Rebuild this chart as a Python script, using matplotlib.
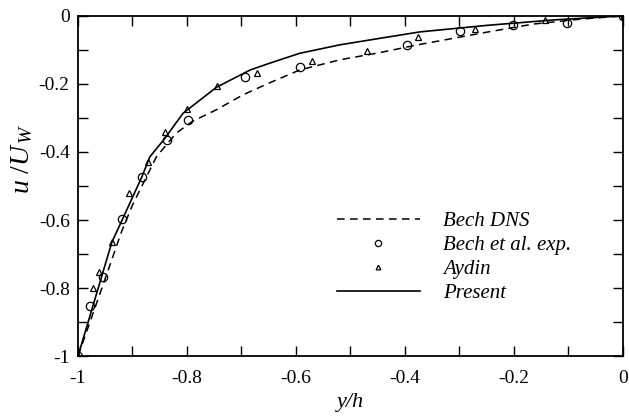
import matplotlib
matplotlib.use("Agg")
import matplotlib.pyplot as plt
from matplotlib.ticker import MultipleLocator, FuncFormatter

plt.rcParams['font.family'] = ['Liberation Serif', 'DejaVu Serif']
plt.rcParams['mathtext.fontset'] = 'custom'
plt.rcParams['mathtext.rm'] = 'Liberation Serif'
plt.rcParams['mathtext.it'] = 'Liberation Serif:italic'

# Bech DNS (dashed)
dns_x = [-1.0, -0.95, -0.92, -0.90, -0.856, -0.82, -0.79, -0.746, -0.697, -0.65,
         -0.593, -0.519, -0.446, -0.376, -0.25, -0.164, -0.08, 0.0]
dns_y = [-1.0, -0.772, -0.634, -0.556, -0.414, -0.345, -0.310, -0.276, -0.232, -0.198,
         -0.159, -0.129, -0.108, -0.085, -0.048, -0.024, -0.010, 0.0]

# Bech et al. exp. (circles)
exp_x = [-1.0, -0.978, -0.955, -0.919, -0.883, -0.836, -0.798, -0.694, -0.593,
         -0.396, -0.299, -0.201, -0.102, 0.0]
exp_y = [-1.0, -0.853, -0.767, -0.597, -0.474, -0.365, -0.306, -0.180, -0.149,
         -0.085, -0.044, -0.026, -0.020, 0.0]

# Aydin (triangles)
ayd_x = [-1.0, -0.973, -0.961, -0.937, -0.906, -0.872, -0.840, -0.799, -0.744,
         -0.672, -0.570, -0.469, -0.376, -0.272, -0.143, 0.0]
ayd_y = [-1.0, -0.800, -0.752, -0.665, -0.522, -0.430, -0.342, -0.274, -0.206,
         -0.169, -0.134, -0.103, -0.061, -0.039, -0.012, 0.0]

# Present (solid)
pre_x = [-1.0, -0.938, -0.919, -0.883, -0.868, -0.843, -0.807, -0.746, -0.684,
         -0.648, -0.593, -0.519, -0.446, -0.372, -0.25, -0.128, 0.0]
pre_y = [-1.0, -0.666, -0.600, -0.474, -0.414, -0.365, -0.286, -0.210, -0.159,
         -0.139, -0.110, -0.085, -0.066, -0.047, -0.028, -0.012, 0.0]

fig = plt.figure(figsize=(6.29, 4.18), dpi=100)
ax = fig.add_axes([0.124, 0.148, 0.866, 0.814])

ax.plot(dns_x, dns_y, color='black', lw=1.1, ls=(0, (5, 3.5)), label='Bech DNS')
ax.plot(exp_x, exp_y, ls='none', marker='o', ms=6, mfc='none', mec='black', mew=0.9,
        label='Bech et al. exp.')
ax.plot(ayd_x, ayd_y, ls='none', marker='^', ms=4.5, mfc='none', mec='black', mew=0.9,
        label='Aydin')
ax.plot(pre_x, pre_y, color='black', lw=1.2, label='Present')

ax.set_xlim(-1, 0)
ax.set_ylim(-1, 0)
ax.xaxis.set_major_locator(MultipleLocator(0.2))
ax.xaxis.set_minor_locator(MultipleLocator(0.1))
ax.yaxis.set_major_locator(MultipleLocator(0.2))
ax.yaxis.set_minor_locator(MultipleLocator(0.1))
fmt = FuncFormatter(lambda v, p: ('%g' % round(v, 2)))
ax.xaxis.set_major_formatter(fmt)
ax.yaxis.set_major_formatter(fmt)
ax.tick_params(which='both', direction='in', top=True, right=True, length=7,
               width=1.0, labelsize=14, color='black')
ax.tick_params(axis='x', pad=10)
ax.tick_params(axis='y', pad=6)
for s in ax.spines.values():
    s.set_linewidth(1.3)

ax.set_xlabel('y/h', fontsize=16, style='italic', labelpad=4)
ax.set_ylabel(r'$u\ /U_{\,W}$', fontsize=20)
ax.yaxis.set_label_coords(-0.078, 0.58)

leg = ax.legend(loc='lower right', bbox_to_anchor=(0.94, 0.1), frameon=False,
                handlelength=4.0, labelspacing=0.22, handletextpad=1.1,
                markerscale=0.75, prop={'style': 'italic', 'size': 15})

fig.savefig('out.png', dpi=100)
